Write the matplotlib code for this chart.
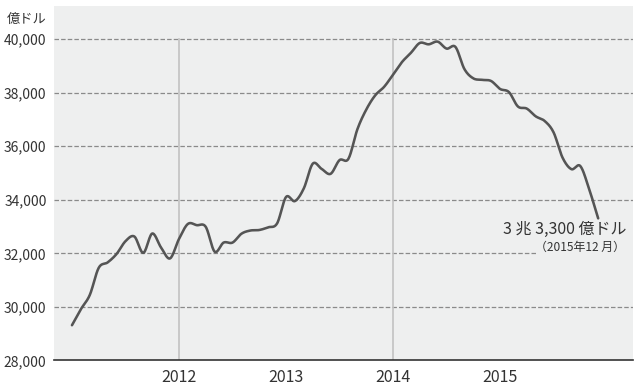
import numpy as np
import matplotlib
matplotlib.use("Agg")
import matplotlib.pyplot as plt

plt.rcParams["font.family"] = ["Noto Sans CJK JP", "DejaVu Sans"]

# China FX reserves, monthly Jan 2011 - Dec 2015 (億ドル)
reserves_2011 = [29316, 29914, 30447, 31458, 31660, 31975, 32452, 32625, 32017, 32738, 32209, 31811]
reserves_2012 = [32536, 33097, 33050, 32987, 32061, 32400, 32400, 32730, 32850, 32870, 32970, 33116]
reserves_2013 = [34100, 33950, 34426, 35345, 35148, 34967, 35478, 35530, 36627, 37366, 37895, 38213]
reserves_2014 = [38666, 39137, 39481, 39850, 39800, 39900, 39640, 39700, 38877, 38529, 38473, 38430]
reserves_2015 = [38134, 38015, 37480, 37400, 37111, 36938, 36513, 35574, 35141, 35255, 34383, 33304]

year_labels = ["2012", "2013", "2014", "2015"]
y_ticks = [28000, 30000, 32000, 34000, 36000, 38000, 40000]

values = np.array(reserves_2011 + reserves_2012 + reserves_2013 + reserves_2014 + reserves_2015, float)
months = np.arange(len(values), dtype=float)


def catmull_rom(x, y, steps=16):
    """Uniform Catmull-Rom curve through the points, for a smooth line."""
    px = np.concatenate([[2 * x[0] - x[1]], x, [2 * x[-1] - x[-2]]])
    py = np.concatenate([[2 * y[0] - y[1]], y, [2 * y[-1] - y[-2]]])
    t = np.linspace(0, 1, steps, endpoint=False)[:, None]
    out = []
    for p in (px, py):
        p0, p1, p2, p3 = p[:-3], p[1:-2], p[2:-1], p[3:]
        seg = 0.5 * (2 * p1 + (-p0 + p2) * t + (2 * p0 - 5 * p1 + 4 * p2 - p3) * t ** 2
                     + (-p0 + 3 * p1 - 3 * p2 + p3) * t ** 3)
        out.append(np.concatenate([seg.T.ravel(), [p[-2]]]))
    return out


fig = plt.figure(figsize=(6.4, 3.89), dpi=100)
ax = fig.add_axes([0.0836, 0.0733, 0.9054, 0.9113])
ax.set_facecolor("#eeefef")

ax.set_xlim(-2.07, 62.9)
ax.set_ylim(28000, 41230)

# dashed horizontal grid; the 32,000 line stops short of the annotation
for v in y_ticks[1:]:
    xmax = 0.834 if v == 32000 else 1.0
    ax.axhline(v, xmin=0, xmax=xmax, color="#8a8a8a", lw=0.9,
               dashes=(3.6, 1.7), zorder=1)

for yr in (2012, 2014):
    ax.plot([(yr - 2011) * 12] * 2, [28000, 40000], color="#c2c2c2", lw=1.2, zorder=1)

sx, sy = catmull_rom(months, values)
ax.plot(sx, sy, color="#555555", lw=1.85, solid_capstyle="round", zorder=3)

for s in ("top", "right", "left"):
    ax.spines[s].set_visible(False)
ax.spines["bottom"].set_color("#333333")
ax.spines["bottom"].set_linewidth(1.2)

ax.set_yticks(y_ticks)
ax.set_yticklabels([f"{v:,}" for v in y_ticks])
ax.set_xticks([12, 24, 36, 48])
ax.set_xticklabels(year_labels)
ax.tick_params(axis="y", length=0, pad=5, labelsize=10, labelcolor="#333333")
ax.tick_params(axis="x", length=0, pad=6, labelsize=11.5, labelcolor="#333333")

fig.text(0.011, 0.949, "億ドル", ha="left", va="center", fontsize=9.5, color="#333333")

ax.text(0.9897, 0.371, "3 兆 3,300 億ドル", transform=ax.transAxes,
        ha="right", va="center", fontsize=11.5, color="#333333")
ax.text(0.986, 0.320, "（2015年12 月）", transform=ax.transAxes,
        ha="right", va="center", fontsize=8.6, color="#333333")

fig.savefig("out.png", dpi=100)
